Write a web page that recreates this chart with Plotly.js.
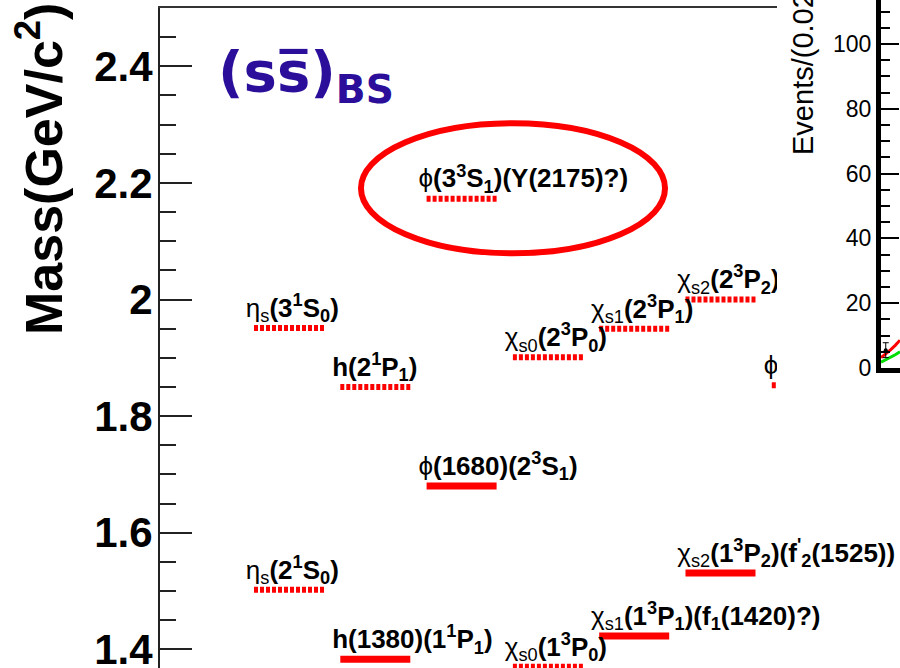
<!DOCTYPE html>
<html><head><meta charset="utf-8">
<script src="https://cdn.plot.ly/plotly-3.0.1.min.js"></script>
<style>html,body{margin:0;padding:0;background:#fff}#chart{width:900px;height:668px}</style>
</head><body><div id="chart"></div>
<script>
// ---- ss-bar spectrum levels ----
const stateColumn   = [1, 1, 2, 2, 3, 3, 4, 4, 5, 5, 6, 6, 7];
const stateMass     = [1.951, 1.502, 1.850, 1.383, 2.173, 1.680, 1.901, 1.370, 1.950, 1.423, 2.000, 1.531, 1.853];
const stateObserved = [false, false, false, true, false, true, false, false, false, true, false, true, false];
const stateLabel = [
  "η<sub>s</sub><b>(3<sup>1</sup>S<sub>0</sub>)</b>",
  "η<sub>s</sub><b>(2<sup>1</sup>S<sub>0</sub>)</b>",
  "<b>h(2<sup>1</sup>P<sub>1</sub>)</b>",
  "<b>h(1380)(1<sup>1</sup>P<sub>1</sub>)</b>",
  "ϕ<b>(3<sup>3</sup>S<sub>1</sub>)(Y(2175)?)</b>",
  "ϕ<b>(1680)(2<sup>3</sup>S<sub>1</sub>)</b>",
  "χ<sub>s0</sub><b>(2<sup>3</sup>P<sub>0</sub>)</b>",
  "χ<sub>s0</sub><b>(1<sup>3</sup>P<sub>0</sub>)</b>",
  "χ<sub>s1</sub><b>(2<sup>3</sup>P<sub>1</sub>)</b>",
  "χ<sub>s1</sub><b>(1<sup>3</sup>P<sub>1</sub>)(f<sub>1</sub>(1420)?)</b>",
  "χ<sub>s2</sub><b>(2<sup>3</sup>P<sub>2</sub>)</b>",
  "χ<sub>s2</sub><b>(1<sup>3</sup>P<sub>2</sub>)(f<sup>'</sup><sub>2</sub>(1525))</b>",
  "ϕ<b>(1<sup>3</sup>D<sub>1</sub>)</b>"
];
const yTickVals = [1.4, 1.6, 1.8, 2.0, 2.2, 2.4];
const yTickText = ["1.4", "1.6", "1.8", "2", "2.2", "2.4"];

// ---- inset (partially visible event histogram) ----
const insetMass      = [1.600, 1.615, 1.630, 1.645, 1.660];
const insetFitTotal  = [3.2, 4.3, 5.6, 7.0, 8.6];
const insetFitSignal = [1.8, 2.5, 3.3, 4.1, 5.0];
const insetDataX     = [1.615];
const insetDataY     = [5.5];
const insetDataErr   = [2.3];
const insetYTickVals = [0, 20, 40, 60, 80, 100];
const insetYTickText = ["0", "20", "40", "60", "80", "100"];

const HALF = 0.4056;      // half bar length (x units)
const LABEL_DX = 0.5;     // label starts a little left of bar
const LABEL_DY = 0.008;   // small lift of labels above bars
function barXY(filterObs) {
  const x = [], y = [];
  stateMass.forEach((m, i) => {
    if (stateObserved[i] !== filterObs) return;
    x.push(stateColumn[i] - HALF, stateColumn[i] + HALF, null);
    y.push(m, m, null);
  });
  return {x, y};
}
const pred = barXY(false), obs = barXY(true);

const labelFont = {family: "Liberation Sans, Arial, sans-serif", size: 26, color: "#000"};
function labelTrace(clip) {
  const x = [], y = [], t = [];
  stateMass.forEach((m, i) => {
    if ((m > 1.75) !== clip) return;
    x.push(stateColumn[i] - LABEL_DX); y.push(m + LABEL_DY); t.push(stateLabel[i]);
  });
  return {type: "scatter", mode: "text", x, y, text: t, textposition: "top right",
          textfont: labelFont, cliponaxis: clip, hoverinfo: "skip", showlegend: false, xaxis: "x", yaxis: "y"};
}

const traces = [
  {type: "scatter", mode: "lines", x: pred.x, y: pred.y, line: {color: "#ff0000", width: 6, dash: "4px,2px"}, showlegend: false, xaxis: "x", yaxis: "y"},
  {type: "scatter", mode: "lines", x: obs.x, y: obs.y, line: {color: "#ff0000", width: 7}, showlegend: false, xaxis: "x", yaxis: "y"},
  labelTrace(true),
  labelTrace(false),
  {type: "scatter", mode: "lines", x: insetMass, y: insetFitTotal, line: {color: "#ff0000", width: 3}, xaxis: "x2", yaxis: "y2", showlegend: false},
  {type: "scatter", mode: "lines", x: insetMass, y: insetFitSignal, line: {color: "#00dd00", width: 3}, xaxis: "x2", yaxis: "y2", showlegend: false},
  {type: "scatter", mode: "markers", x: insetDataX, y: insetDataY, marker: {color: "#000", size: 4},
   error_y: {type: "data", array: insetDataErr, color: "#000", thickness: 1, width: 3}, xaxis: "x2", yaxis: "y2", showlegend: false}
];

const layout = {
  width: 900, height: 668,
  margin: {l: 160, r: 0, t: 0, b: 0},
  paper_bgcolor: "#fff", plot_bgcolor: "rgba(0,0,0,0)",
  showlegend: false,
  xaxis: {domain: [0, 0.83378], range: [-0.4948, 6.6547], side: "top", showline: true, linecolor: "#333", linewidth: 2,
          showticklabels: false, ticks: "", showgrid: false, zeroline: false, fixedrange: true},
  yaxis: {domain: [0, 0.98802], range: [1.368, 2.5], showline: true, linecolor: "#222", linewidth: 2,
          tickvals: yTickVals, ticktext: yTickText, ticks: "inside", ticklen: 32, tickwidth: 2, tickcolor: "#222",
          minor: {dtick: 0.05, tick0: 0, ticks: "inside", ticklen: 16, tickwidth: 2, tickcolor: "#222", showgrid: false},
          tickfont: {family: "Liberation Sans, Arial, sans-serif", size: 42, color: "#000", weight: "bold"},
          ticklabeloverflow: "allow", ticklabelstandoff: -3,
          showgrid: false, zeroline: false, fixedrange: true},
  xaxis2: {domain: [0.97432, 1], anchor: "y2", range: [1.6, 1.66], showline: true, linecolor: "#000", linewidth: 5,
           ticks: "", showticklabels: false, showgrid: false, zeroline: false},
  yaxis2: {domain: [0.4491, 1], anchor: "x2", range: [0, 113.6], showline: true, linecolor: "#000", linewidth: 5,
           tickvals: insetYTickVals, ticktext: insetYTickText, ticks: "inside", ticklen: 18, tickwidth: 2, tickcolor: "#000",
           minor: {dtick: 5, ticks: "inside", ticklen: 9, tickwidth: 2, tickcolor: "#000", showgrid: false},
           tickfont: {family: "Liberation Sans, Arial, sans-serif", size: 23, color: "#000"},
           showgrid: false, zeroline: false},
  shapes: [
    {type: "circle", xref: "x", yref: "y", x0: 1.834, x1: 5.357, y0: 2.0794, y1: 2.3023,
     line: {color: "#ff0000", width: 6}}
  ],
  annotations: [
    {xref: "paper", yref: "paper", x: -0.1622, y: 0.747, xanchor: "center", yanchor: "middle", textangle: -90,
     text: "Mass(GeV/c<sup>2</sup>)", showarrow: false,
     font: {family: "Liberation Sans, Arial, sans-serif", size: 52, color: "#000", weight: "bold"}},
    {xref: "paper", yref: "paper", x: 0.0757, y: 0.945, xanchor: "left", yanchor: "top",
     text: "(ss\u0305)<sub>BS</sub>", showarrow: false,
     font: {family: "DejaVu Sans, sans-serif", size: 56, color: "#2b0f9b", weight: "bold"}},
    {xref: "paper", yref: "paper", x: 0.8662, y: 0.765, xanchor: "center", yanchor: "bottom", textangle: -90,
     text: "Events/(0.02 GeV/c<sup>2</sup>)", showarrow: false,
     font: {family: "Liberation Sans, Arial, sans-serif", size: 29, color: "#000"}}
  ]
};

Plotly.newPlot("chart", traces, layout, {displayModeBar: false, staticPlot: true});
</script>
</body></html>
